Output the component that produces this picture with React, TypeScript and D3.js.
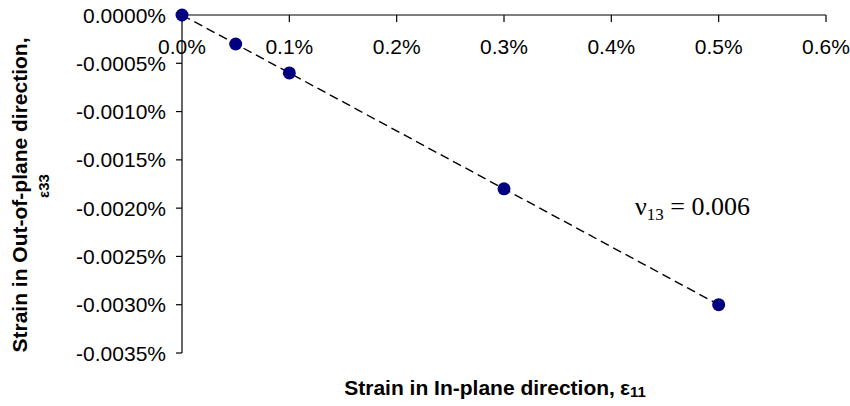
import React from "react";
import * as d3 from "d3";

// Data (strain values in %)
const inPlaneStrain = [0, 0.05, 0.1, 0.3, 0.5];
const outOfPlaneStrain = [0, -0.0003, -0.0006, -0.0018, -0.003];
const trendX = [0, 0.5];
const trendY = [0, -0.003];
const xTicks = [0, 0.1, 0.2, 0.3, 0.4, 0.5, 0.6];
const xTickLabels = ["0.0%", "0.1%", "0.2%", "0.3%", "0.4%", "0.5%", "0.6%"];
const yTicks = [0, -0.0005, -0.001, -0.0015, -0.002, -0.0025, -0.003, -0.0035];
const yTickLabels = [
  "0.0000%",
  "-0.0005%",
  "-0.0010%",
  "-0.0015%",
  "-0.0020%",
  "-0.0025%",
  "-0.0030%",
  "-0.0035%",
];

const W = 850;
const H = 406;
const FONT = "Arial, 'Liberation Sans', Helvetica, sans-serif";
const SERIF = "'Times New Roman', 'Liberation Serif', 'DejaVu Serif', serif";

export default function App() {
  const x = d3.scaleLinear().domain([0, 0.6]).range([182, 826]);
  const y = d3.scaleLinear().domain([0, -0.0035]).range([15, 353]);

  const line = d3
    .line<number>()
    .x((_, i) => x(trendX[i]))
    .y((d) => y(d));

  return (
    <svg
      width={W}
      height={H}
      style={{ position: "absolute", left: 0, top: 0, background: "#fff" }}
      xmlns="http://www.w3.org/2000/svg"
    >
      <rect x={0} y={0} width={W} height={H} fill="#fff" />
      {/* X axis (at top, y=0) */}
      <line x1={x(0)} x2={x(0.6)} y1={y(0)} y2={y(0)} stroke="#000" strokeWidth={1.2} />
      {xTicks.map((t, i) => (
        <g key={"xt" + i}>
          <line x1={x(t)} x2={x(t)} y1={y(0)} y2={y(0) + 7} stroke="#000" strokeWidth={1.2} />
          <text
            x={x(t)}
            y={54}
            textAnchor="middle"
            fontFamily={FONT}
            fontSize={21}
            fill="#000"
          >
            {xTickLabels[i]}
          </text>
        </g>
      ))}
      {/* Y axis */}
      <line x1={x(0)} x2={x(0)} y1={y(0)} y2={y(-0.0035)} stroke="#000" strokeWidth={1.2} />
      {yTicks.map((t, i) => (
        <g key={"yt" + i}>
          <line x1={x(0) - 6} x2={x(0)} y1={y(t)} y2={y(t)} stroke="#000" strokeWidth={1.2} />
          <text
            x={166}
            y={y(t)}
            dy="0.36em"
            textAnchor="end"
            fontFamily={FONT}
            fontSize={21}
            fill="#000"
          >
            {yTickLabels[i]}
          </text>
        </g>
      ))}
      {/* Trend line */}
      <path
        d={line(trendY) || ""}
        fill="none"
        stroke="#000"
        strokeWidth={1.4}
        strokeDasharray="9,5"
      />
      {/* Points */}
      {inPlaneStrain.map((v, i) => (
        <circle key={"p" + i} cx={x(v)} cy={y(outOfPlaneStrain[i])} r={6.5} fill="#000080" />
      ))}
      {/* Annotation */}
      <text x={635} y={215} fontFamily={SERIF} fontSize={26} fill="#000">
        ν
        <tspan fontSize={17} dy={5}>13</tspan>
        <tspan dy={-5}> = 0.006</tspan>
      </text>
      {/* X title */}
      <text
        x={495}
        y={395}
        textAnchor="middle"
        fontFamily={FONT}
        fontSize={21}
        fontWeight="bold"
        fill="#000"
      >
        Strain in In-plane direction,
        <tspan dx={5}>ε</tspan>
        <tspan fontSize={15} dy={2}>11</tspan>
      </text>
      {/* Y title */}
      <g transform="translate(19,195) rotate(-90)">
        <text
          x={0}
          y={0}
          dy="0.36em"
          textAnchor="middle"
          fontFamily={FONT}
          fontSize={21}
          fontWeight="bold"
          fill="#000"
        >
          Strain in Out-of-plane direction,
        </text>
      </g>
      <g transform="translate(44,186) rotate(-90)">
        <text
          x={0}
          y={0}
          dy="0.36em"
          textAnchor="middle"
          fontFamily={FONT}
          fontSize={15}
          fontWeight="bold"
          fill="#000"
        >
          ε33
        </text>
      </g>
    </svg>
  );
}
